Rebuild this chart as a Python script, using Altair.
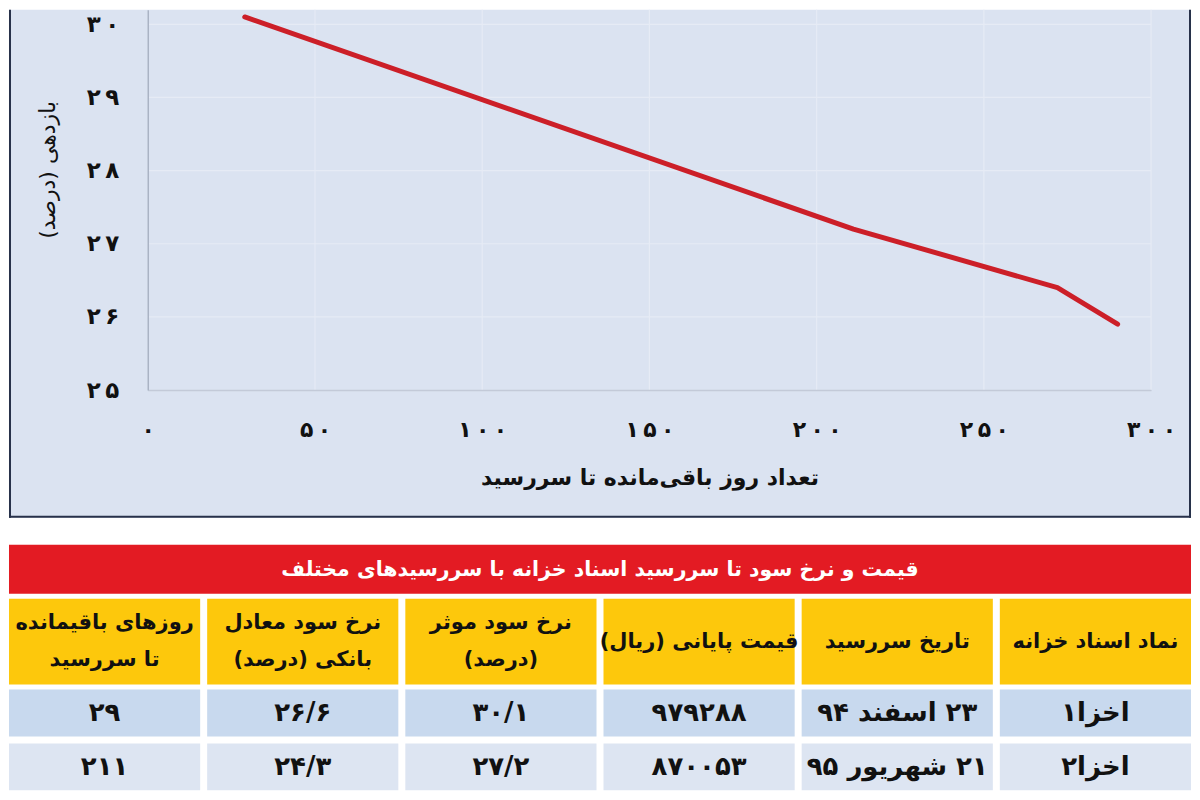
import altair as alt
import pandas as pd

# ---------------- chart data ----------------
curve_days = [29, 211, 272, 290]
curve_yield = [30.1, 27.2, 26.4, 25.9]
x_ticks = [0, 50, 100, 150, 200, 250, 300]
y_ticks = [25, 26, 27, 28, 29, 30]
x_title = "تعداد روز باقی‌مانده تا سررسید"
y_title = "بازدهی (درصد)"

# ---------------- table data ----------------
table_title = "قیمت و نرخ سود تا سررسید اسناد خزانه با سررسیدهای مختلف"
column_headers = [
    "نماد اسناد خزانه",
    "تاریخ سررسید",
    "قیمت پایانی (ریال)",
    "نرخ سود موثر\n(درصد)",
    "نرخ سود معادل\nبانکی (درصد)",
    "روزهای باقیمانده\nتا سررسید",
]
symbols = ["اخزا1", "اخزا2"]
maturity_dates = ["23 اسفند 94", "21 شهریور 95"]
closing_prices = [979288, 870053]
effective_rates = [30.1, 27.2]
bank_equivalent_rates = [26.6, 24.3]
days_remaining = [29, 211]

# ---------------- helpers ----------------
FA_DIGITS = "۰۱۲۳۴۵۶۷۸۹"
FA = str.maketrans("0123456789", FA_DIGITS)


def fa(v):
    return str(v).replace(".", "/").translate(FA)


def rtl(s):
    return "\n".join("\u202b" + ln + "\u202c" for ln in s.split("\n"))


label_expr = "datum.label"
for d in range(10):
    label_expr = f"replace({label_expr}, regexp('{d}', 'g'), '\u2009{FA_DIGITS[d]}')"
label_expr = f"trim({label_expr})"

FONT = "DejaVu Sans"
BG = "#dbe3f1"
GRID = "#e6ebf5"
RED_LINE = "#cc1f28"
BORDER = "#27314a"
TITLE_RED = "#e31b23"
YELLOW = "#fdc80c"
ROW_COLORS = ["#c8d9ee", "#dde5f2"]

# ---------------- line chart ----------------
W, H = 1005, 381
LEFT, RIGHT, BOTTOM = 139, 40, 128

x_enc = alt.X(
    "days:Q",
    scale=alt.Scale(domain=[0, 300], nice=False, zero=False),
    axis=alt.Axis(
        values=x_ticks, format="d", labelExpr=label_expr,
        labelFont=FONT, labelFontWeight="bold", labelFontSize=22, labelColor="#111",
        labelPadding=30, labelFlush=False, labelOverlap=False, ticks=False, grid=False,
        domainColor="#c3cad8", domainWidth=1.5,
        title=rtl(x_title), titleFont=FONT, titleFontSize=22, titleFontWeight="bold",
        titleColor="#111", titleY=88, titleBaseline="middle", zindex=1,
    ),
)
y_enc = alt.Y(
    "yield:Q",
    scale=alt.Scale(domain=[25, 30.2], nice=False, zero=False),
    axis=alt.Axis(
        values=y_ticks, format="d", labelExpr=label_expr,
        labelFont=FONT, labelFontWeight="bold", labelFontSize=23, labelColor="#111",
        labelPadding=29, labelOverlap=False, ticks=False, grid=False,
        domainColor="#aab3c4", domainWidth=1.5,
        title=rtl(y_title), titleFont=FONT, titleFontSize=22, titleFontWeight="normal",
        titleColor="#111", titleAngle=270, titleX=-100, titleY=160,
        titleAlign="center", titleBaseline="middle", zindex=1,
    ),
)

one = pd.DataFrame({"k": [0]})
bg = alt.Chart(one).mark_rect(fill=BG).encode(
    x=alt.value(-LEFT), x2=alt.value(W + RIGHT), y=alt.value(0), y2=alt.value(H + BOTTOM)
)
xgrid = alt.Chart(pd.DataFrame({"days": x_ticks[1:]})).mark_rule(
    color=GRID, strokeWidth=1.2).encode(x=x_enc)
ygrid = alt.Chart(pd.DataFrame({"yield": y_ticks[1:]})).mark_rule(
    color=GRID, strokeWidth=1.2).encode(y=y_enc)
line = alt.Chart(pd.DataFrame({"days": curve_days, "yield": curve_yield})).mark_line(
    color=RED_LINE, strokeWidth=5, strokeCap="round", strokeJoin="round"
).encode(x=x_enc, y=y_enc)
border_l = alt.Chart(one).mark_rule(color=BORDER, strokeWidth=2).encode(
    x=alt.value(-LEFT + 1), y=alt.value(0), y2=alt.value(H + BOTTOM))
border_r = alt.Chart(one).mark_rule(color=BORDER, strokeWidth=2).encode(
    x=alt.value(W + RIGHT - 1), y=alt.value(0), y2=alt.value(H + BOTTOM))
border_b = alt.Chart(one).mark_rule(color=BORDER, strokeWidth=2).encode(
    x=alt.value(-LEFT), x2=alt.value(W + RIGHT), y=alt.value(H + BOTTOM - 1))

top = alt.layer(bg, xgrid, ygrid, line, border_l, border_r, border_b).properties(
    width=W, height=H)

# ---------------- table ----------------
TW, TH = W + RIGHT, 247
tx = alt.Scale(domain=[5, 4, 3, 2, 1, 0], range=[-LEFT, TW],
               paddingInner=0.0353, paddingOuter=0)
xcol = alt.X("col:O", scale=tx, axis=None)

title_df = pd.DataFrame({"label": [rtl(table_title)]})
title_rect = alt.Chart(title_df).mark_rect(color=TITLE_RED).encode(
    x=alt.value(-LEFT), x2=alt.value(TW), y=alt.value(0), y2=alt.value(49))
title_text = alt.Chart(title_df).mark_text(
    font=FONT, fontSize=20.5, fontWeight="bold", color="white", baseline="middle", align="center"
).encode(x=alt.value((TW - LEFT) / 2), y=alt.value(25), text="label:N")

header_df = pd.DataFrame({
    "col": list(range(6)),
    "label": [rtl(h) for h in column_headers],
    "lines": [h.count("\n") + 1 for h in column_headers],
})
header_rect = alt.Chart(header_df).mark_rect(color=YELLOW).encode(
    x=xcol, y=alt.value(54), y2=alt.value(140))
header_text_style = dict(font=FONT, fontSize=21, fontWeight="bold", color="#111",
                         baseline="middle", align="center", lineBreak="\n", lineHeight=37)
header_text_1 = alt.Chart(header_df).transform_filter("datum.lines == 1").mark_text(
    **header_text_style).encode(x=xcol, y=alt.value(97), text="label:N")
header_text_2 = alt.Chart(header_df).transform_filter("datum.lines == 2").mark_text(
    **header_text_style).encode(x=xcol, y=alt.value(97 - 18.5), text="label:N")

layers = [title_rect, title_text, header_rect, header_text_1, header_text_2]
row_tops = [145, 199]
for i in range(len(symbols)):
    cells = [
        rtl(fa(symbols[i])),
        rtl(fa(maturity_dates[i])),
        rtl(fa(closing_prices[i])),
        rtl(fa(effective_rates[i])),
        rtl(fa(bank_equivalent_rates[i])),
        rtl(fa(days_remaining[i])),
    ]
    df = pd.DataFrame({"col": list(range(6)), "label": cells})
    t = row_tops[i]
    layers.append(alt.Chart(df).mark_rect(color=ROW_COLORS[i]).encode(
        x=xcol, y=alt.value(t), y2=alt.value(t + 47)))
    layers.append(alt.Chart(df).mark_text(
        font=FONT, fontSize=26, fontWeight="bold", color="#111", baseline="middle", align="center"
    ).encode(x=xcol, y=alt.value(t + 24), text="label:N"))

table = alt.layer(*layers).properties(width=TW, height=TH)

chart = alt.vconcat(top, table, spacing=26).properties(
    padding=0, background="white"
).configure_view(strokeWidth=0)

chart.save("out.html", embed_options={"renderer": "svg", "actions": False})
